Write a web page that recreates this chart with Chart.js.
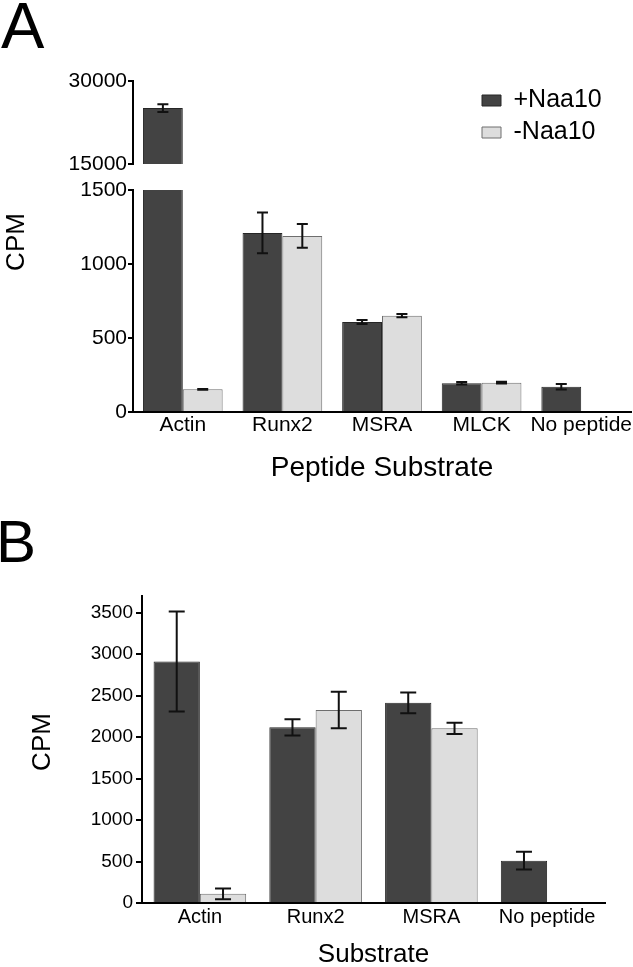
<!DOCTYPE html>
<html>
<head>
<meta charset="utf-8">
<title>Naa10 peptide substrate CPM</title>
<script src="https://cdn.jsdelivr.net/npm/chart.js@4.4.1/dist/chart.umd.min.js"></script>
<style>
    html, body { margin: 0; padding: 0; background: #fff; overflow: hidden; }
    body { width: 633px; height: 967px; position: relative; font-family: "Liberation Sans", Arial, sans-serif; }
    .panel { position: absolute; left: 0; width: 633px; height: 500px; }
    .panel canvas { position: absolute; left: 0; top: 0; }
    .letter { position: absolute; line-height: 1; color: #000; }
</style>
</head>
<body>
<div class="letter" style="left:1px; top:-7px; font-size:65px;">A</div>
<div class="letter" style="left:-4px; top:512px; font-size:60px;">B</div>

<div class="panel" style="top:0;">
    <canvas id="chartABottom" width="633" height="500"></canvas>
    <canvas id="chartATop" width="633" height="500"></canvas>
</div>
<div class="panel" style="top:480px;">
    <canvas id="chartB" width="633" height="500"></canvas>
</div>

<script>
// ---- data ----
const seriesLabels = ['+Naa10', '-Naa10'];

// Panel A: peptide substrates
const categoriesA = ['Actin', 'Runx2', 'MSRA', 'MLCK', 'No peptide'];
const plusA = [25100, 1210, 608, 194, 171];
const plusAErr = [700, 138, 13, 8, 19];
const minusA = [153, 1190, 651, 198, null];
const minusAErr = [3, 80, 11, 6, null];

// Panel B: substrates
const categoriesB = ['Actin', 'Runx2', 'MSRA', 'No peptide'];
const plusB = [2910, 2117, 2413, 510];
const plusBErr = [602, 97, 125, 107];
const minusB = [110, 2325, 2105, null];
const minusBErr = [66, 220, 68, null];

// Tick values for each axis (panel A has a broken y axis)
const ticksATop = [15000, 30000];
const ticksABottom = [0, 500, 1000, 1500];
const ticksB = [0, 500, 1000, 1500, 2000, 2500, 3000, 3500];

const fontFamily = '"Liberation Sans", Arial, sans-serif';
const darkFill = '#434343', darkEdge = '#262626';
const lightFill = '#dddddd', lightEdge = '#6e6e6e';

Chart.defaults.font.family = fontFamily;
Chart.defaults.color = '#000';
Chart.defaults.animation = false;

/**
 * Draws +/- error bars on top of each bar, clipped to the chart area.
 */
const errorBars = {
    id: 'errorBars',
    afterDatasetsDraw(chart, args, opts) {
        const { ctx, chartArea } = chart;
        const yScale = chart.scales.y;
        ctx.save();
        ctx.beginPath();
        ctx.rect(chartArea.left, chartArea.top - 1, chartArea.width, chartArea.height + 2);
        ctx.clip();
        ctx.strokeStyle = opts.color;
        ctx.lineWidth = opts.width;
        chart.data.datasets.forEach((ds, di) => {
            const meta = chart.getDatasetMeta(di);
            meta.data.forEach((bar, i) => {
                const v = ds.data[i], e = ds.errors[i];
                if (v == null || e == null) return;
                const yTop = yScale.getPixelForValue(v + e);
                const yBot = yScale.getPixelForValue(v - e);
                const half = opts.cap / 2;
                ctx.beginPath();
                ctx.moveTo(bar.x, yTop); ctx.lineTo(bar.x, yBot);
                ctx.moveTo(bar.x - half, yTop); ctx.lineTo(bar.x + half, yTop);
                ctx.moveTo(bar.x - half, yBot); ctx.lineTo(bar.x + half, yBot);
                ctx.stroke();
            });
        });
        ctx.restore();
    }
};

/**
 * Rotated y-axis title at a fixed spot (panel A's title spans both axis parts).
 */
const sideTitle = {
    id: 'sideTitle',
    afterDraw(chart, args, opts) {
        if (!opts.text) return;
        const { ctx } = chart;
        ctx.save();
        ctx.translate(opts.x, opts.y);
        ctx.rotate(-Math.PI / 2);
        ctx.font = `${opts.size}px ${fontFamily}`;
        ctx.fillStyle = '#000';
        ctx.textAlign = 'center';
        ctx.textBaseline = 'middle';
        ctx.fillText(opts.text, 0, 0);
        ctx.restore();
    }
};

/**
 * Moves the legend box to a fixed place inside the chart area.
 */
const legendPlace = {
    id: 'legendPlace',
    afterLayout(chart, args, opts) {
        const lg = chart.legend;
        if (!lg || opts.left == null) return;
        const w = lg.width, h = lg.height;
        lg.left = opts.left; lg.top = opts.top;
        lg.right = opts.left + w; lg.bottom = opts.top + h;
    }
};

function makeDatasets(plus, plusErr, minus, minusErr) {
    return [
        { label: seriesLabels[0], data: plus, errors: plusErr, backgroundColor: darkFill, borderColor: darkEdge,
          borderWidth: 1, categoryPercentage: 0.8, barPercentage: 1 },
        { label: seriesLabels[1], data: minus, errors: minusErr, backgroundColor: lightFill, borderColor: lightEdge,
          borderWidth: 1, categoryPercentage: 0.8, barPercentage: 1 }
    ];
}

function yAxis(min, max, ticks, width, fontSize, tickLen, pad) {
    return {
        min: min,
        max: max,
        afterBuildTicks: s => { s.ticks = ticks.map(v => ({ value: v })); },
        afterFit: s => { s.width = width; },
        border: { display: true, color: '#000', width: 2 },
        grid: { drawOnChartArea: false, color: '#000', lineWidth: 2, tickLength: tickLen },
        ticks: { font: { size: fontSize }, color: '#000', padding: pad, callback: v => String(v) }
    };
}

function xAxis(height, fontSize, pad, title, titleSize) {
    return {
        offset: true,
        afterFit: s => { s.height = height; s.paddingLeft = 0; s.paddingRight = 0; },
        border: { display: true, color: '#000', width: 2 },
        grid: { display: false, drawTicks: false },
        ticks: { font: { size: fontSize }, color: '#000', padding: pad, maxRotation: 0, minRotation: 0, autoSkip: false },
        title: { display: true, text: title, font: { size: titleSize }, color: '#000', padding: { top: 4, bottom: 4 } }
    };
}

// Panel A, lower part of the broken axis (0 - 1500)
new Chart(document.getElementById('chartABottom').getContext('2d'), {
    type: 'bar',
    data: { labels: categoriesA, datasets: makeDatasets(plusA, plusAErr, minusA, minusAErr) },
    options: {
        responsive: false,
        layout: { padding: { top: 190, right: 2, bottom: 11, left: 0 } },
        scales: {
            x: xAxis(77, 21, 1, 'Peptide Substrate', 28),
            y: yAxis(0, 1500, ticksABottom, 133, 21, 5, 1)
        },
        plugins: {
            legend: { display: false },
            tooltip: { enabled: false },
            errorBars: { color: '#111', width: 2, cap: 11 },
            sideTitle: { text: 'CPM', x: 17, y: 242, size: 26 }
        }
    },
    plugins: [errorBars, sideTitle]
});

// Panel A, upper part of the broken axis (15000 - 30000) with the legend
new Chart(document.getElementById('chartATop').getContext('2d'), {
    type: 'bar',
    data: { labels: categoriesA, datasets: makeDatasets(plusA, plusAErr, minusA, minusAErr) },
    options: {
        responsive: false,
        layout: { padding: { top: 81, right: 2, bottom: 336, left: 0 } },
        scales: {
            x: { display: false, offset: true },
            y: yAxis(15000, 30000, ticksATop, 133, 21, 5, 1)
        },
        plugins: {
            legend: {
                position: 'chartArea',
                align: 'start',
                labels: { font: { size: 25 }, color: '#000', boxWidth: 19, boxHeight: 11, padding: 7 }
            },
            legendPlace: { left: 475, top: 81 },
            tooltip: { enabled: false },
            errorBars: { color: '#111', width: 2, cap: 11 }
        }
    },
    plugins: [errorBars, legendPlace]
});

// Panel B
new Chart(document.getElementById('chartB').getContext('2d'), {
    type: 'bar',
    data: { labels: categoriesB, datasets: makeDatasets(plusB, plusBErr, minusB, minusBErr) },
    options: {
        responsive: false,
        layout: { padding: { top: 116, right: 28, bottom: 6, left: 0 } },
        scales: {
            x: xAxis(71, 20, 2.5, 'Substrate', 26),
            y: yAxis(0, 3700, ticksB, 142, 19, 6, 3)
        },
        plugins: {
            legend: { display: false },
            tooltip: { enabled: false },
            errorBars: { color: '#111', width: 2, cap: 16 },
            sideTitle: { text: 'CPM', x: 43, y: 262, size: 26 }
        }
    },
    plugins: [errorBars, sideTitle]
});
</script>
</body>
</html>
